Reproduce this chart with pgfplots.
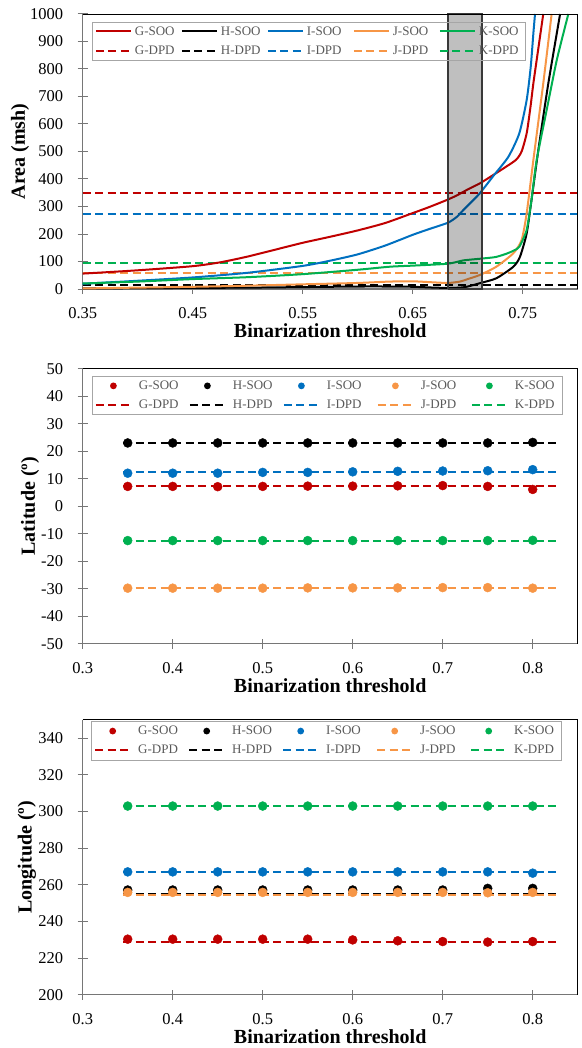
\documentclass[border=0pt]{standalone}
\usepackage{fontspec}
\setmainfont{Liberation Serif}
\usepackage{pgfplots}
\pgfplotsset{compat=1.18}
\definecolor{cG}{HTML}{C00000}
\definecolor{cH}{HTML}{000000}
\definecolor{cI}{HTML}{0070C0}
\definecolor{cJ}{HTML}{F79646}
\definecolor{cK}{HTML}{00B050}
\definecolor{axgray}{HTML}{767676}
\definecolor{leggray}{HTML}{595959}
\definecolor{legframe}{HTML}{A6A6A6}
\newcommand{\lt}[1]{\makebox[41pt][l]{#1}}
\newcommand{\lm}[1]{\makebox[42pt][l]{#1}}
\newcommand{\legL}[1]{\addlegendimage{legend image code/.code={\draw[draw=#1, line width=2pt, solid] (0pt,0pt) -- (35pt,0pt);}}}
\newcommand{\legD}[1]{\addlegendimage{legend image code/.code={\draw[draw=#1, line width=2pt, dash pattern=on 8pt off 4.5pt] (0pt,0pt) -- (35pt,0pt);}}}
\newcommand{\legM}[1]{\addlegendimage{legend image code/.code={\path[draw=none, fill=none] (0pt,-3pt) rectangle (35pt,3pt); \fill[fill=#1, draw=none] (17.5pt,0pt) circle (3.4pt);}}}
\pgfplotsset{
  base/.style={
    scale only axis, width=495pt, height=275pt, anchor=south west,
    axis lines*=left, axis line style={draw=axgray, line width=1.2pt, -},
    tick style={draw=axgray, line width=1pt}, major tick length=10pt, tick align=center,
    enlargelimits=false, clip mode=individual,
    /pgf/number format/assume math mode=true, /pgf/number format/1000 sep={},
    tick label style={font=\fontsize{16.5}{19}\selectfont, text=black},
    xticklabel style={anchor=north, inner sep=0pt, yshift=-13.5pt},
    yticklabel style={anchor=east, inner sep=0pt, xshift=-14.4pt},
    xlabel={Binarization threshold},
    xlabel style={font=\bfseries\fontsize{20}{24}\selectfont, at={(axis description cs:0.5,0)}, anchor=center, yshift=-42pt},
    ylabel style={font=\bfseries\fontsize{20}{24}\selectfont, anchor=center},
    legend columns=5,
    legend style={at={(axis description cs:0,1)}, anchor=north west, draw=legframe, fill=none,
      font=\fontsize{13}{15}\selectfont, text=leggray, inner ysep=2.5pt, row sep=5pt},
  },
  dpdline/.style={forget plot, line width=2pt, dash pattern=on 8pt off 4.5pt, mark=none},
  sooline/.style={forget plot, line width=2pt, mark=none, smooth, tension=0.4},
  soopt/.style={forget plot, only marks, mark=*, mark size=4.5pt},
}
\begin{document}
\begin{tikzpicture}
\useasboundingbox (0pt,0pt) rectangle (581pt,-1048pt);
%% ---------------- TOP: Area ----------------
\begin{axis}[base, at={(82.7pt,-289pt)}, xmin=0.35, xmax=0.80, ymin=0, ymax=1000,
  xtick={0.35,0.45,0.55,0.65,0.75}, xticklabels={0.35,0.45,0.55,0.65,0.75},
  ytick={0,100,200,300,400,500,600,700,800,900,1000}, ylabel={Area (msh)},
  ylabel style={at={(axis description cs:-0.1267,0.5)}},
  legend style={xshift=9pt, yshift=-7.7pt, inner xsep=3pt,
    /tikz/every odd column/.append style={column sep=1pt},
    /tikz/every even column/.append style={column sep=3pt}}]
\addplot[dpdline, draw=cG] coordinates {(0.35,350) (0.80,350)};
\addplot[dpdline, draw=cH] coordinates {(0.35,16) (0.80,16)};
\addplot[dpdline, draw=cI] coordinates {(0.35,273) (0.80,273)};
\addplot[dpdline, draw=cJ] coordinates {(0.35,58) (0.80,58)};
\addplot[dpdline, draw=cK] coordinates {(0.35,93) (0.80,93)};
\addplot[sooline, draw=cG] coordinates {(0.35,56) (0.40,68) (0.45,83) (0.475,97) (0.50,118) (0.525,143) (0.55,168) (0.575,190) (0.60,213) (0.625,240) (0.65,276) (0.665,298) (0.68,322) (0.69,340) (0.70,362) (0.711,384) (0.723,414) (0.735,445) (0.744,470) (0.749,500) (0.7536,566) (0.757,660) (0.7597,748) (0.764,869) (0.7687,1000)};
\addplot[sooline, draw=cH] coordinates {(0.35,2) (0.40,3) (0.45,4) (0.50,5) (0.55,7) (0.60,9) (0.63,9) (0.65,8) (0.67,5) (0.682,4) (0.693,5) (0.70,9) (0.711,21) (0.726,39) (0.7415,81) (0.7475,117) (0.7536,202) (0.758,324) (0.7642,505) (0.7733,748) (0.784,1000)};
\addplot[sooline, draw=cI] coordinates {(0.35,19) (0.40,30) (0.45,42) (0.50,59) (0.55,84) (0.575,103) (0.60,126) (0.625,158) (0.65,197) (0.665,218) (0.682,241) (0.69,262) (0.696,287) (0.703,315) (0.711,348) (0.7233,411) (0.737,481) (0.7469,566) (0.7536,687) (0.7573,808) (0.7597,930) (0.7612,1000)};
\addplot[sooline, draw=cJ] coordinates {(0.35,2) (0.40,5) (0.45,8) (0.50,12) (0.55,17) (0.60,22) (0.629,27) (0.65,28) (0.665,25) (0.682,22) (0.693,27) (0.70,36) (0.711,51) (0.726,81) (0.7415,130) (0.749,178) (0.7536,275) (0.7597,469) (0.7687,748) (0.7763,1000)};
\addplot[sooline, draw=cK] coordinates {(0.35,20) (0.40,27) (0.45,36) (0.50,43) (0.55,54) (0.60,70) (0.629,81) (0.65,85) (0.682,92) (0.696,104) (0.711,110) (0.725,116) (0.735,128) (0.742,140) (0.747,154) (0.7536,215) (0.758,324) (0.7627,469) (0.7718,651) (0.781,833) (0.7915,1000)};
\legL{cG}\addlegendentry{\lt{G-SOO}}
\legL{cH}\addlegendentry{\lt{H-SOO}}
\legL{cI}\addlegendentry{\lt{I-SOO}}
\legL{cJ}\addlegendentry{\lt{J-SOO}}
\legL{cK}\addlegendentry{\lt{K-SOO}}
\legD{cG}\addlegendentry{\lt{G-DPD}}
\legD{cH}\addlegendentry{\lt{H-DPD}}
\legD{cI}\addlegendentry{\lt{I-DPD}}
\legD{cJ}\addlegendentry{\lt{J-DPD}}
\legD{cK}\addlegendentry{\lt{K-DPD}}
\addplot[forget plot, fill=black, fill opacity=0.25, draw=gray!45!black, line width=1.2pt] coordinates {(0.682,0) (0.682,1000) (0.713,1000) (0.713,0) (0.682,0)};
\draw[black, line width=0.8pt] (rel axis cs:0,1) -- (rel axis cs:1,1) -- (rel axis cs:1,0);
\end{axis}
%% ---------------- MIDDLE: Latitude ----------------
\begin{axis}[base, at={(82.7pt,-643.7pt)}, xmin=0.3, xmax=0.85, ymin=-50, ymax=50,
  xtick={0.3,0.4,0.5,0.6,0.7,0.8}, xticklabels={0.3,0.4,0.5,0.6,0.7,0.8},
  ytick={-50,-40,-30,-20,-10,0,10,20,30,40,50}, ylabel={Latitude (º)},
  ylabel style={at={(axis description cs:-0.1065,0.5)}},
  legend style={xshift=9pt, yshift=-7.4pt, inner xsep=3pt,
    /tikz/every odd column/.append style={column sep=5pt},
    /tikz/every even column/.append style={column sep=6pt}}]
\addplot[dpdline, draw=cG] coordinates {(0.345,7.3) (0.83,7.3)};
\addplot[dpdline, draw=cH] coordinates {(0.345,23.0) (0.83,23.0)};
\addplot[dpdline, draw=cI] coordinates {(0.345,12.4) (0.83,12.4)};
\addplot[dpdline, draw=cJ] coordinates {(0.345,-29.8) (0.83,-29.8)};
\addplot[dpdline, draw=cK] coordinates {(0.345,-12.65) (0.83,-12.65)};
\addplot[soopt, mark options={draw=cG, fill=cG}] coordinates {(0.35,7.2) (0.40,7.2) (0.45,7.1) (0.50,7.2) (0.55,7.3) (0.60,7.3) (0.65,7.4) (0.70,7.5) (0.75,7.2) (0.80,6.1)};
\addplot[soopt, mark options={draw=cH, fill=cH}] coordinates {(0.35,23.0) (0.40,23.0) (0.45,23.0) (0.50,23.0) (0.55,23.0) (0.60,23.0) (0.65,23.0) (0.70,23.0) (0.75,23.0) (0.80,23.2)};
\addplot[soopt, mark options={draw=cI, fill=cI}] coordinates {(0.35,12.0) (0.40,12.0) (0.45,12.0) (0.50,12.3) (0.55,12.3) (0.60,12.5) (0.65,12.7) (0.70,12.8) (0.75,12.9) (0.80,13.3)};
\addplot[soopt, mark options={draw=cJ, fill=cJ}] coordinates {(0.35,-29.8) (0.40,-29.8) (0.45,-29.8) (0.50,-29.8) (0.55,-29.7) (0.60,-29.7) (0.65,-29.7) (0.70,-29.6) (0.75,-29.6) (0.80,-29.8)};
\addplot[soopt, mark options={draw=cK, fill=cK}] coordinates {(0.35,-12.5) (0.40,-12.5) (0.45,-12.5) (0.50,-12.5) (0.55,-12.5) (0.60,-12.5) (0.65,-12.5) (0.70,-12.5) (0.75,-12.5) (0.80,-12.4)};
\legM{cG}\addlegendentry{\lm{G-SOO}}
\legM{cH}\addlegendentry{\lm{H-SOO}}
\legM{cI}\addlegendentry{\lm{I-SOO}}
\legM{cJ}\addlegendentry{\lm{J-SOO}}
\legM{cK}\addlegendentry{\lm{K-SOO}}
\legD{cG}\addlegendentry{\lm{G-DPD}}
\legD{cH}\addlegendentry{\lm{H-DPD}}
\legD{cI}\addlegendentry{\lm{I-DPD}}
\legD{cJ}\addlegendentry{\lm{J-DPD}}
\legD{cK}\addlegendentry{\lm{K-DPD}}
\draw[black, line width=0.8pt] (rel axis cs:0,1) -- (rel axis cs:1,1) -- (rel axis cs:1,0);
\end{axis}
%% ---------------- BOTTOM: Longitude ----------------
\begin{axis}[base, at={(82.7pt,-994.7pt)}, xmin=0.3, xmax=0.85, ymin=200, ymax=350,
  xtick={0.3,0.4,0.5,0.6,0.7,0.8}, xticklabels={0.3,0.4,0.5,0.6,0.7,0.8},
  ytick={200,220,240,260,280,300,320,340}, ylabel={Longitude (º)},
  ylabel style={at={(axis description cs:-0.1125,0.5)}},
  legend style={xshift=8.3pt, yshift=-1.6pt, inner xsep=3pt,
    /tikz/every odd column/.append style={column sep=5pt},
    /tikz/every even column/.append style={column sep=6pt}}]
\addplot[dpdline, draw=cG] coordinates {(0.345,228.7) (0.83,228.7)};
\addplot[dpdline, draw=cH] coordinates {(0.345,254.9) (0.83,254.9)};
\addplot[dpdline, draw=cI] coordinates {(0.345,266.8) (0.83,266.8)};
\addplot[dpdline, draw=cJ] coordinates {(0.345,254.6) (0.83,254.6)};
\addplot[dpdline, draw=cK] coordinates {(0.345,302.7) (0.83,302.7)};
\addplot[soopt, mark options={draw=cG, fill=cG}] coordinates {(0.35,230.3) (0.40,230.3) (0.45,230.3) (0.50,230.3) (0.55,230.3) (0.60,229.9) (0.65,229.4) (0.70,229.0) (0.75,228.7) (0.80,229.0)};
\addplot[soopt, mark options={draw=cH, fill=cH}] coordinates {(0.35,257.1) (0.40,257.1) (0.45,257.1) (0.50,257.1) (0.55,257.1) (0.60,257.1) (0.65,257.1) (0.70,257.1) (0.75,258.0) (0.80,258.0)};
\addplot[soopt, mark options={draw=cI, fill=cI}] coordinates {(0.35,267.0) (0.40,267.0) (0.45,267.0) (0.50,267.0) (0.55,267.0) (0.60,267.0) (0.65,267.0) (0.70,267.0) (0.75,267.0) (0.80,266.3)};
\addplot[soopt, mark options={draw=cJ, fill=cJ}] coordinates {(0.35,255.8) (0.40,255.8) (0.45,255.8) (0.50,255.8) (0.55,255.8) (0.60,255.8) (0.65,255.8) (0.70,255.8) (0.75,255.6) (0.80,255.8)};
\addplot[soopt, mark options={draw=cK, fill=cK}] coordinates {(0.35,302.9) (0.40,302.9) (0.45,302.9) (0.50,302.9) (0.55,302.9) (0.60,302.9) (0.65,302.9) (0.70,302.9) (0.75,302.9) (0.80,302.9)};
\legM{cG}\addlegendentry{\lm{G-SOO}}
\legM{cH}\addlegendentry{\lm{H-SOO}}
\legM{cI}\addlegendentry{\lm{I-SOO}}
\legM{cJ}\addlegendentry{\lm{J-SOO}}
\legM{cK}\addlegendentry{\lm{K-SOO}}
\legD{cG}\addlegendentry{\lm{G-DPD}}
\legD{cH}\addlegendentry{\lm{H-DPD}}
\legD{cI}\addlegendentry{\lm{I-DPD}}
\legD{cJ}\addlegendentry{\lm{J-DPD}}
\legD{cK}\addlegendentry{\lm{K-DPD}}
\draw[black, line width=0.8pt] (rel axis cs:0,1) -- (rel axis cs:1,1) -- (rel axis cs:1,0);
\end{axis}
\end{tikzpicture}
\end{document}
